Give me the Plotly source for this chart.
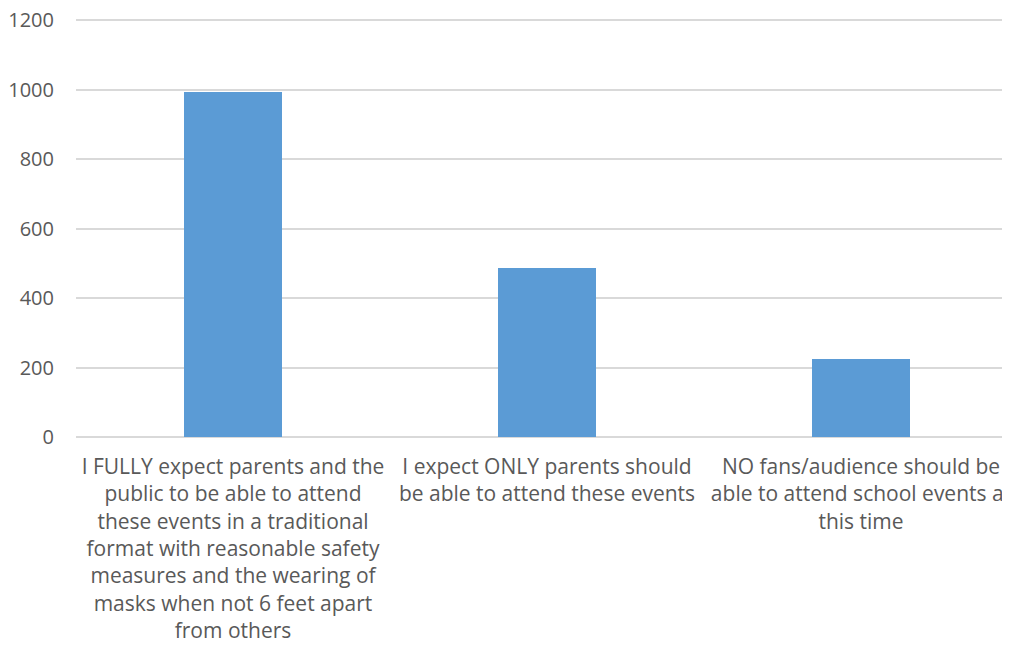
import plotly.graph_objects as go

categories = [
    "I FULLY expect parents and the<br>public to be able to attend<br>these events in a traditional<br>format with reasonable safety<br>measures and the wearing of<br>masks when not 6 feet apart<br>from others",
    "I expect ONLY parents should<br>be able to attend these events",
    "NO fans/audience should be<br>able to attend school events at<br>this time",
]
values = [993, 485, 225]
y_ticks = [0, 200, 400, 600, 800, 1000, 1200]

fig = go.Figure(
    go.Bar(
        x=categories,
        y=values,
        marker=dict(color="#5b9bd5", line=dict(width=0)),
        width=0.315,
    )
)

fig.update_layout(
    width=1002,
    height=646,
    margin=dict(l=68, r=0, t=2, b=217),
    paper_bgcolor="white",
    plot_bgcolor="white",
    showlegend=False,
    font=dict(family="Open Sans", color="#595959", size=20),
    bargap=0,
)
fig.update_xaxes(
    automargin=False,
    range=[-0.5, 2.4745],
    showgrid=False,
    showline=False,
    ticks="",
    tickangle=0,
    tickfont=dict(size=21),
    ticklabelstandoff=15,
)
fig.update_yaxes(
    automargin=False,
    range=[0, 1228.8],
    tickvals=y_ticks,
    showgrid=True,
    gridcolor="#d9d9d9",
    gridwidth=1.5,
    zeroline=True,
    zerolinecolor="#d9d9d9",
    zerolinewidth=1.5,
    showline=False,
    ticks="",
    tickfont=dict(size=20),
    ticklabelstandoff=21,
    ticklabeloverflow="allow",
)

fig.write_html("out.html")
